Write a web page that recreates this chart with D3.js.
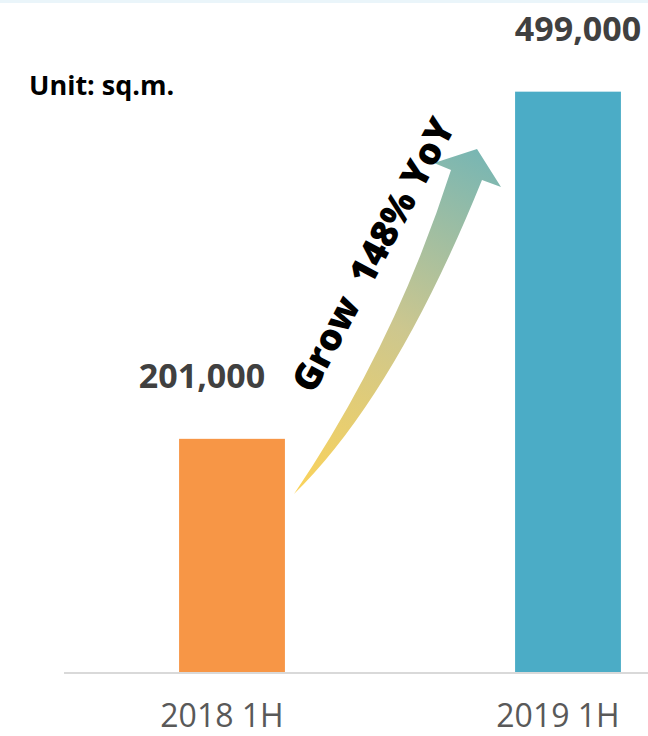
<!DOCTYPE html>
<html>
<head>
  <style>
    body {
      margin: 0;
      background: #fff;
      font-family: "Open Sans", sans-serif;
    }
    .value {
      font-weight: bold;
      fill: #404040;
      text-anchor: middle;
    }
    .x.axis .domain {
      stroke: #d9d9d9;
      stroke-width: 2;
    }
    .x.axis .tick line {
      display: none;
    }
    .x.axis .tick text {
      fill: #595959;
      font-family: "Open Sans", sans-serif;
      font-size: 32px;
    }
  </style>
</head>
<body>
  <script src="https://d3js.org/d3.v7.min.js"></script>
  <script>
    var periods = ["2018 1H", "2019 1H"];
    var areas = [201000, 499000];
    var barColors = ["#f79646", "#4bacc6"];
    var labelShift = [-30, 10];
    var unitLabel = "Unit: sq.m.";
    var growthLabel = "Grow  148% YoY";

    var width = 648, height = 736;
    var baseY = 673;

    var svg = d3.select("body").append("svg")
        .attr("width", width)
        .attr("height", height);

    // thin light strip along the top edge
    svg.append("rect")
        .attr("width", width)
        .attr("height", 3)
        .attr("fill", "#eaf5fa");

    var x = d3.scaleBand()
      .domain(periods)
      .range([64, 736])
      .paddingInner(0.685)
      .paddingOuter(0.3425);

    var y = d3.scaleLinear()
      .domain([0, 500000])
      .range([baseY, baseY - 500000 * 0.001165]);

    var data = periods.map(function(p, i){ return {period: p, value: areas[i]}; });

    svg.selectAll(".bar")
      .data(data)
      .enter().append("rect")
        .attr("class", "bar")
        .attr("x", function(d){ return x(d.period); })
        .attr("y", function(d){ return y(d.value); })
        .attr("width", x.bandwidth())
        .attr("height", function(d){ return baseY - y(d.value); })
        .attr("fill", function(d, i){ return barColors[i]; });

    var xAxis = d3.axisBottom(x).tickSize(0).tickPadding(0);

    svg.append("g")
        .attr("class", "x axis")
        .attr("transform", "translate(0," + baseY + ")")
        .call(xAxis)
        .call(function(g){
          g.select(".domain").attr("d", "M64,0H736");
          g.selectAll(".tick text").attr("dx", -10).attr("dy", 0).attr("y", 54);
        });

    svg.selectAll(".value")
      .data(data)
      .enter().append("text")
        .attr("class", "value")
        .attr("x", function(d, i){ return x(d.period) + x.bandwidth() / 2 + labelShift[i]; })
        .attr("y", function(d){ return y(d.value) - 51; })
        .style("font-size", "34px")
        .text(function(d){ return d3.format(",")(d.value); });

    svg.append("text")
        .attr("x", 29)
        .attr("y", 95)
        .style("font-weight", "bold")
        .style("font-size", "27px")
        .attr("fill", "#000")
        .text(unitLabel);

    // growth arrow
    var defs = svg.append("defs");
    var grad = defs.append("linearGradient")
        .attr("id", "arrowGrad")
        .attr("gradientUnits", "userSpaceOnUse")
        .attr("x1", 294).attr("y1", 494)
        .attr("x2", 477).attr("y2", 149);
    grad.append("stop").attr("offset", 0).attr("stop-color", "#fbd35a");
    grad.append("stop").attr("offset", 0.5).attr("stop-color", "#cdc78e");
    grad.append("stop").attr("offset", 1).attr("stop-color", "#78b6b3");

    var arrow = d3.path();
    arrow.moveTo(294, 494);
    arrow.quadraticCurveTo(395, 345, 451, 170);
    arrow.lineTo(434, 163);
    arrow.lineTo(477, 149);
    arrow.lineTo(501, 187);
    arrow.lineTo(482, 180);
    arrow.quadraticCurveTo(395, 395, 294, 494);
    arrow.closePath();

    svg.append("path")
        .attr("d", arrow.toString())
        .attr("fill", "url(#arrowGrad)");

    svg.append("text")
        .attr("transform", "translate(372,254) rotate(-62)")
        .attr("text-anchor", "middle")
        .attr("dominant-baseline", "central")
        .style("font-weight", "800")
        .style("font-size", "37px")
        .attr("fill", "#000")
        .attr("xml:space", "preserve")
        .style("white-space", "pre")
        .text(growthLabel);
  </script>
</body>
</html>
